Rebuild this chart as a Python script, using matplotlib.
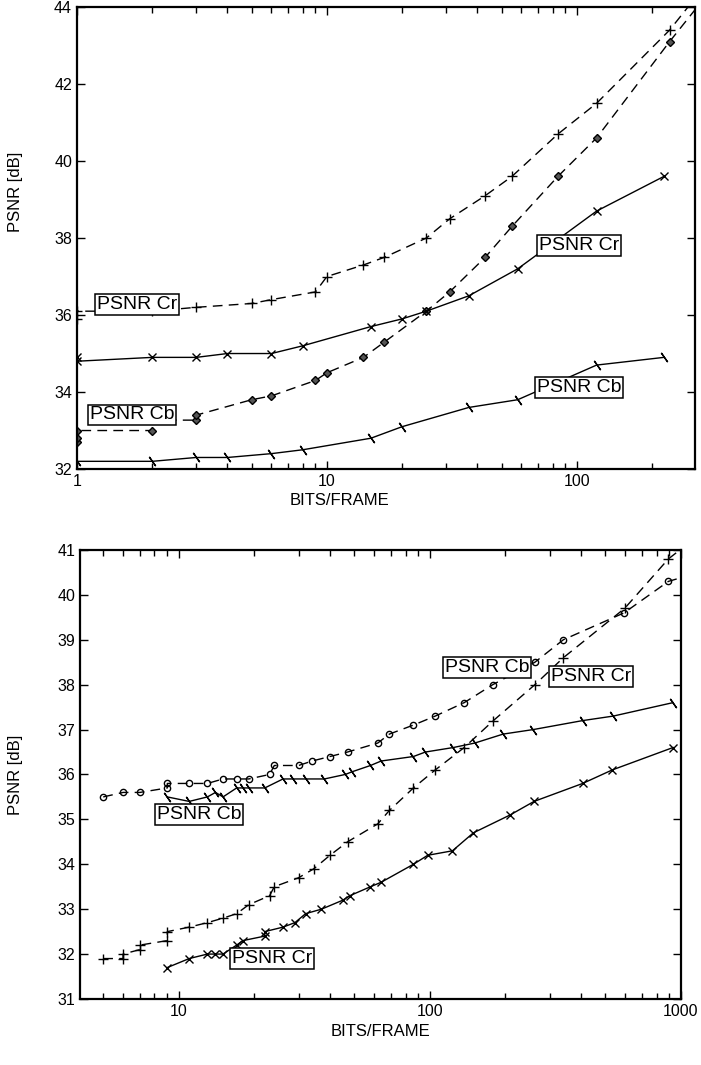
import numpy as np
import matplotlib
matplotlib.use("Agg")
import matplotlib.pyplot as plt
from matplotlib.ticker import FixedLocator, NullFormatter, FixedFormatter

plt.rcParams["font.family"] = ["Liberation Sans", "DejaVu Sans"]

# ── Top panel data ───────────────────────────────────────────────────────────────
top_cr_dash_x = [1, 1, 2, 3, 5, 6, 9, 10, 14, 17, 25, 31, 43, 55, 84, 120, 235, 330]
top_cr_dash_y = [35.9, 36.1, 36.1, 36.2, 36.3, 36.4, 36.6, 37.0, 37.3, 37.5, 38.0, 38.5,
                 39.1, 39.6, 40.7, 41.5, 43.4, 44.6]

top_cb_dash_x = [1, 1, 1, 2, 2, 3, 3, 5, 6, 9, 10, 14, 17, 25, 31, 43, 55, 84, 120, 235, 330]
top_cb_dash_y = [32.7, 32.8, 33.0, 33.0, 33.27, 33.27, 33.4, 33.8, 33.9, 34.3, 34.5, 34.9,
                 35.3, 36.1, 36.6, 37.5, 38.3, 39.6, 40.6, 43.1, 44.3]

top_cr_solid_x = [1, 1, 2, 3, 4, 6, 8, 15, 20, 25, 37, 58, 120, 223]
top_cr_solid_y = [34.9, 34.8, 34.9, 34.9, 35.0, 35.0, 35.2, 35.7, 35.9, 36.1, 36.5, 37.2,
                  38.7, 39.6]

top_cb_solid_x = [1, 2, 3, 4, 6, 8, 15, 20, 37, 58, 120, 223]
top_cb_solid_y = [32.2, 32.2, 32.3, 32.3, 32.4, 32.5, 32.8, 33.1, 33.6, 33.8, 34.7, 34.9]

# ── Bottom panel data ────────────────────────────────────────────────────────────
bot_cb_dash_x = [5, 6, 7, 9, 9, 11, 13, 15, 17, 19, 23, 24, 30, 34, 40, 47, 62, 69, 86,
                 105, 137, 178, 262, 340, 594, 891, 1100]
bot_cb_dash_y = [35.5, 35.6, 35.6, 35.7, 35.8, 35.8, 35.8, 35.9, 35.9, 35.9, 36.0, 36.2,
                 36.2, 36.3, 36.4, 36.5, 36.7, 36.9, 37.1, 37.3, 37.6, 38.0, 38.5, 39.0,
                 39.6, 40.3, 40.45]

bot_cb_solid_x = [9, 11, 13, 14, 15, 17, 18, 19, 22, 26, 28.5, 32, 38, 46, 49, 58, 64, 86,
                  96, 124, 151, 196, 258, 406, 537, 930]
bot_cb_solid_y = [35.5, 35.4, 35.5, 35.6, 35.5, 35.7, 35.7, 35.7, 35.7, 35.9, 35.9, 35.9,
                  35.9, 36.0, 36.06, 36.2, 36.3, 36.4, 36.5, 36.6, 36.7, 36.9, 37.0, 37.2,
                  37.3, 37.6]

bot_cr_dash_x = [5, 6, 6, 7, 7, 9, 9, 11, 13, 15, 17, 19, 23, 24, 30, 34.5, 40, 47, 62,
                 69, 86, 105, 137, 179, 262, 340, 597, 891, 1100]
bot_cr_dash_y = [31.9, 31.9, 32.0, 32.1, 32.2, 32.3, 32.5, 32.6, 32.7, 32.8, 32.9, 33.1,
                 33.3, 33.5, 33.7, 33.9, 34.2, 34.5, 34.9, 35.2, 35.7, 36.1, 36.6, 37.2,
                 38.0, 38.6, 39.7, 40.8, 41.2]

bot_cr_solid_x = [9, 11, 13, 14, 15, 17, 18, 22, 22, 26, 29, 32, 37, 45, 48, 58, 64, 86,
                  98, 123, 149, 209, 260, 406, 532, 930]
bot_cr_solid_y = [31.7, 31.9, 32.0, 32.0, 32.0, 32.2, 32.3, 32.4, 32.5, 32.6, 32.7, 32.9,
                  33.0, 33.2, 33.3, 33.5, 33.6, 34.0, 34.2, 34.3, 34.7, 35.1, 35.4, 35.8,
                  36.1, 36.6]

# ── Styles ───────────────────────────────────────────────────────────────────────
DASH   = (0, (7, 4.5))
LW     = 1.0
TICKFS = 11.5
LABFS  = 12
BOXFS  = 14
SLASH  = (2, 2, 35)


def label_box(ax, x, y, s):
    ax.text(x, y, s, transform=ax.transAxes, ha="left", va="center", fontsize=BOXFS,
            bbox=dict(boxstyle="square,pad=0.1", fc="white", ec="black", lw=1.1),
            zorder=5)


def style_axes(ax, xlim, ylim, yticks, xmajor, xlab_xy, ylab_xy):
    ax.set_xscale("log")
    ax.set_xlim(*xlim)
    ax.set_ylim(*ylim)
    ax.set_yticks(yticks)
    ax.xaxis.set_major_locator(FixedLocator(xmajor))
    ax.xaxis.set_major_formatter(FixedFormatter([f"{v:g}" for v in xmajor]))
    ax.xaxis.set_minor_formatter(NullFormatter())
    ax.tick_params(which="both", direction="in", top=True, right=True,
                   labelsize=TICKFS, width=1.0)
    ax.tick_params(which="major", length=6)
    ax.tick_params(which="minor", length=4)
    for sp in ax.spines.values():
        sp.set_linewidth(1.6)
    ax.set_xlabel("BITS/FRAME", fontsize=LABFS)
    ax.set_ylabel("PSNR [dB]", fontsize=LABFS)
    ax.xaxis.set_label_coords(*xlab_xy)
    ax.yaxis.set_label_coords(*ylab_xy)


fig = plt.figure(figsize=(7.01, 10.65), dpi=100)

# ── Top panel ────────────────────────────────────────────────────────────────────
ax1 = fig.add_axes([0.1098, 0.5596, 0.8816, 0.4338])
ax1.plot(top_cr_dash_x, top_cr_dash_y, color="black", lw=LW, ls=DASH,
         marker="+", ms=7, mew=1.0)
ax1.plot(top_cb_dash_x, top_cb_dash_y, color="black", lw=LW, ls=DASH,
         marker="D", ms=4, mew=1.0, mfc="#555555")
ax1.plot(top_cr_solid_x, top_cr_solid_y, color="black", lw=LW, ls="-",
         marker="x", ms=6, mew=1.0)
ax1.plot(top_cb_solid_x, top_cb_solid_y, color="black", lw=LW, ls="-",
         marker=SLASH, ms=8, mew=1.0)
style_axes(ax1, (1, 297), (32, 44), np.arange(32, 45, 2), [1, 10, 100],
           (0.425, -0.052), (-0.087, 0.60))
label_box(ax1, 0.032, 0.356, "PSNR Cr")
label_box(ax1, 0.021, 0.117, "PSNR Cb")
label_box(ax1, 0.748, 0.483, "PSNR Cr")
label_box(ax1, 0.744, 0.177, "PSNR Cb")

# ── Bottom panel ─────────────────────────────────────────────────────────────────
ax2 = fig.add_axes([0.1141, 0.0620, 0.8573, 0.4216])
ax2.plot(bot_cb_dash_x, bot_cb_dash_y, color="black", lw=LW, ls=DASH,
         marker="o", ms=4.5, mew=1.0, mfc="none")
ax2.plot(bot_cb_solid_x, bot_cb_solid_y, color="black", lw=LW, ls="-",
         marker=SLASH, ms=8, mew=1.0)
ax2.plot(bot_cr_dash_x, bot_cr_dash_y, color="black", lw=LW, ls=DASH,
         marker="+", ms=7, mew=1.0)
ax2.plot(bot_cr_solid_x, bot_cr_solid_y, color="black", lw=LW, ls="-",
         marker="x", ms=6, mew=1.0)
style_axes(ax2, (4.04, 1000), (31, 41), np.arange(31, 42, 1), [10, 100, 1000],
           (0.5, -0.055), (-0.095, 0.5))
label_box(ax2, 0.607, 0.739, "PSNR Cb")
label_box(ax2, 0.784, 0.719, "PSNR Cr")
label_box(ax2, 0.128, 0.410, "PSNR Cb")
label_box(ax2, 0.253, 0.090, "PSNR Cr")

fig.savefig("out.png", dpi=100)
